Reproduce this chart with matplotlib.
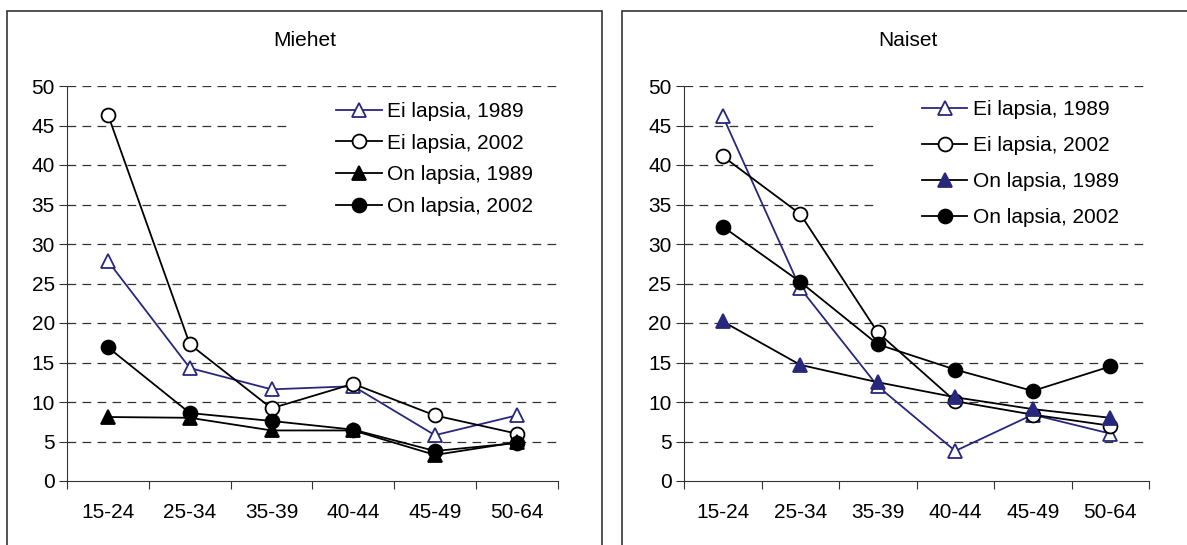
import matplotlib.pyplot as plt
from matplotlib.patches import Rectangle

plt.rcParams['font.family'] = ['Liberation Sans', 'DejaVu Sans']

age_groups = ['15-24', '25-34', '35-39', '40-44', '45-49', '50-64']
series_labels = ['Ei lapsia, 1989', 'Ei lapsia, 2002', 'On lapsia, 1989', 'On lapsia, 2002']

# Miehet
men_no_kids_1989 = [27.8, 14.3, 11.6, 12.0, 5.8, 8.3]
men_no_kids_2002 = [46.3, 17.3, 9.2, 12.3, 8.3, 6.0]
men_kids_1989 = [8.1, 8.0, 6.4, 6.4, 3.3, 4.9]
men_kids_2002 = [16.9, 8.6, 7.6, 6.5, 3.8, 4.8]

# Naiset
women_no_kids_1989 = [46.2, 24.4, 12.0, 3.8, 8.4, 6.0]
women_no_kids_2002 = [41.1, 33.8, 18.8, 10.1, 8.4, 7.0]
women_kids_1989 = [20.2, 14.7, 12.5, 10.6, 9.1, 8.0]
women_kids_2002 = [32.2, 25.2, 17.3, 14.1, 11.4, 14.5]

navy = '#27287c'
fs = 15
W, H = 1187, 545

fig = plt.figure(figsize=(W / 100, H / 100), dpi=100)

# panel frames (bottom edges run off the image)
fig.patches.append(Rectangle((7 / W, -0.1), 595 / W, 1.1 - 11 / H, transform=fig.transFigure,
                             fill=False, edgecolor='#333333', linewidth=1.2, clip_on=False))
fig.patches.append(Rectangle((622 / W, -0.1), 0.6, 1.1 - 11 / H, transform=fig.transFigure,
                             fill=False, edgecolor='#333333', linewidth=1.2, clip_on=False))


def draw_panel(rect, title, title_x, data, kids89_color, leg_x, leg_y, leg_space, box_x):
    ax = fig.add_axes(rect)
    x = list(range(1, len(age_groups) + 1))
    styles = [
        dict(color=navy, marker='^', markerfacecolor='white', markeredgecolor=navy),
        dict(color='black', marker='o', markerfacecolor='white', markeredgecolor='black'),
        dict(color='black', marker='^', markerfacecolor=kids89_color, markeredgecolor=kids89_color),
        dict(color='black', marker='o', markerfacecolor='black', markeredgecolor='black'),
    ]
    for vals, lab, st in zip(data, series_labels, styles):
        ax.plot(x, vals, label=lab, linewidth=1.3, markersize=10, markeredgewidth=1.3, zorder=3, **st)

    ax.set_xlim(0.5, 6.5)
    ax.set_ylim(0, 50)
    ax.set_yticks(range(0, 51, 5))
    ax.set_xticks([i + 0.5 for i in range(0, 7)])
    ax.set_xticklabels([])
    ax.set_xticks(x, minor=True)
    ax.set_xticklabels(age_groups, minor=True)
    ax.tick_params(axis='x', which='minor', length=0, pad=16, labelsize=fs)
    ax.tick_params(axis='x', which='major', length=6, direction='out', color='#333333')
    ax.tick_params(axis='y', length=6, direction='out', labelsize=fs, color='#333333', pad=3)
    for v in range(5, 51, 5):
        ax.axhline(v, color='#333333', linestyle=(0, (7, 5)), linewidth=0.9, zorder=1)
    for s in ['top', 'right']:
        ax.spines[s].set_visible(False)
    for s in ['left', 'bottom']:
        ax.spines[s].set_color('#333333')

    # white legend area hiding the gridlines
    ax.add_patch(Rectangle((box_x, 0.61), 1.0 - box_x, 0.365, transform=ax.transAxes,
                           facecolor='white', edgecolor='none', zorder=2))
    leg = ax.legend(loc='upper left', bbox_to_anchor=(leg_x, leg_y), frameon=False, fontsize=fs,
                    handlelength=2.2, handletextpad=0.25, labelspacing=leg_space, borderpad=0,
                    borderaxespad=0)
    leg.set_zorder(5)
    fig.text(title_x, 1 - 41 / H, title, ha='center', va='center', fontsize=fs)
    return ax


draw_panel([67.3 / W, 1 - 481 / H, 490.2 / W, 395 / H], 'Miehet', 305 / W,
           [men_no_kids_1989, men_no_kids_2002, men_kids_1989, men_kids_2002], 'black',
           0.548, 0.96, 0.61, 0.456)
draw_panel([684 / W, 1 - 481 / H, 465 / W, 395 / H], 'Naiset', 908 / W,
           [women_no_kids_1989, women_no_kids_2002, women_kids_1989, women_kids_2002], navy,
           0.511, 0.965, 0.82, 0.415)

fig.savefig('out.png', dpi=100)
